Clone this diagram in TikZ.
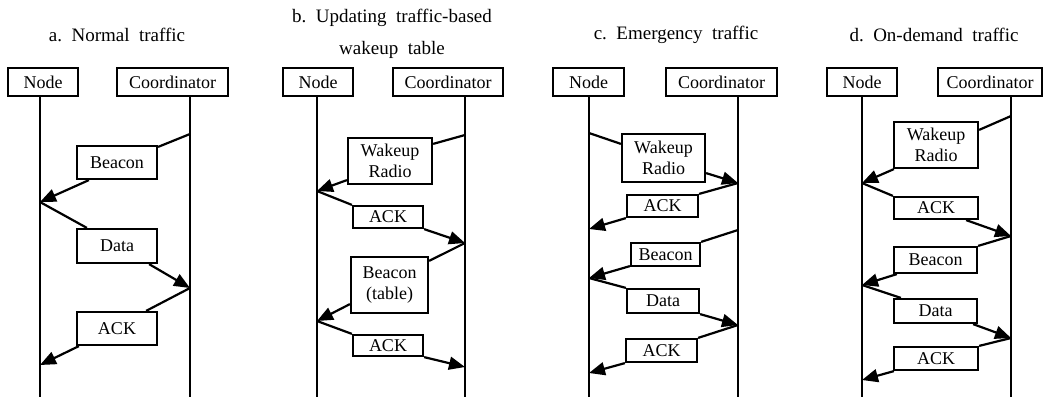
\documentclass[tikz,border=0pt]{standalone}
\usepackage{fontspec}
\setmainfont{Liberation Serif}
\usetikzlibrary{arrows.meta,calc}
\begin{document}
\begin{tikzpicture}[x=1pt,y=-1pt,
  lbl/.style={font=\fontsize{18}{21.5}\selectfont, draw, line width=2.2pt, inner sep=0pt, align=center},
  head/.style={font=\fontsize{19}{22}\selectfont, inner sep=0pt},
  life/.style={line width=2pt},
  wire/.style={line width=2.2pt},
  msg/.style={line width=2.2pt, -{Triangle[length=16pt,width=13pt]}},
]
\useasboundingbox (0,0) rectangle (1043,400);

% ---------------- a. Normal traffic ----------------
\node[head] (aT) at (117,35) {a.\ \ Normal\ \ traffic};
\node[lbl, minimum width=70pt, minimum height=28pt] (aN) at (43,82) {Node};
\node[lbl, minimum width=111pt, minimum height=28pt] (aC) at (172.5,82) {Coordinator};
\coordinate (aNe) at (40,397);
\coordinate (aCe) at (190,397);
\draw[life] (aN.south -| aNe) -- (aNe);
\draw[life] (aC.south -| aCe) -- (aCe);
\coordinate (a0) at (190,134);
\coordinate (a1) at (40,202);
\coordinate (a2) at (190,288);
\coordinate (a3) at (40,365);
\node[lbl, minimum width=80pt, minimum height=33pt] (aB) at (117,162.5) {Beacon};
\node[lbl, minimum width=80pt, minimum height=34pt] (aD) at (117,246) {Data};
\node[lbl, minimum width=80pt, minimum height=33pt] (aK) at (117,328.5) {ACK};
\draw[wire] (a0) -- ($(aB.north east)+(0,2)$);
\draw[msg] ($(aB.south west)+(13,0)$) -- (a1);
\draw[wire] (a1) -- ($(aD.north west)+(11,0)$);
\draw[msg] ($(aD.south east)+(-9,0)$) -- (a2);
\draw[wire] (a2) -- ($(aK.north east)+(-12,0)$);
\draw[msg] ($(aK.south west)+(3,0)$) -- (a3);

% ---------------- b. Updating traffic-based wakeup table ----------------
\node[head] (bT1) at (392,18) {b.\ \ Updating\ \ traffic-based};
\node[head] (bT2) at (392,50) {wakeup\ \ table};
\node[lbl, minimum width=70pt, minimum height=28pt] (bN) at (318,82) {Node};
\node[lbl, minimum width=110pt, minimum height=28pt] (bC) at (448,82) {Coordinator};
\coordinate (bNe) at (317,397);
\coordinate (bCe) at (465,397);
\draw[life] (bN.south -| bNe) -- (bNe);
\draw[life] (bC.south -| bCe) -- (bCe);
\coordinate (b0) at (465,135);
\coordinate (b1) at (317,191);
\coordinate (b2) at (465,243);
\coordinate (b3) at (317,321);
\coordinate (b4) at (465,367);
\node[lbl, minimum width=84pt, minimum height=46pt] (bW) at (390,161) {Wakeup\\Radio};
\node[lbl, minimum width=70pt, minimum height=22pt] (bK1) at (388,217) {ACK};
\node[lbl, minimum width=77pt, minimum height=56pt] (bB) at (389.5,285) {Beacon\\(table)};
\node[lbl, minimum width=70pt, minimum height=21pt] (bK2) at (388,345.5) {ACK};
\draw[wire] (b0) -- ($(bW.north east)+(0,7)$);
\draw[msg] ($(bW.south west)+(0,-5)$) -- (b1);
\draw[wire] (b1) -- (bK1.north west);
\draw[msg] (bK1.south east) -- (b2);
\draw[wire] (b2) -- ($(bB.north east)+(0,5)$);
\draw[msg] ($(bB.south west)+(0,-10)$) -- (b3);
\draw[wire] (b3) -- (bK2.north west);
\draw[msg] (bK2.south east) -- (b4);

% ---------------- c. Emergency traffic ----------------
\node[head] (cT) at (676,35) {c.\ \ Emergency\ \ traffic};
\node[lbl, minimum width=71pt, minimum height=28pt] (cN) at (588.5,82) {Node};
\node[lbl, minimum width=111pt, minimum height=28pt] (cC) at (721.5,82) {Coordinator};
\coordinate (cNe) at (589,397);
\coordinate (cCe) at (738,397);
\draw[life] (cN.south -| cNe) -- (cNe);
\draw[life] (cC.south -| cCe) -- (cCe);
\coordinate (c0) at (589,133);
\coordinate (c1) at (738,183);
\coordinate (c2) at (589,229);
\coordinate (c3) at (738,230);
\coordinate (c4) at (589,278);
\coordinate (c5) at (738,325);
\coordinate (c6) at (589,373);
\node[lbl, minimum width=83pt, minimum height=48pt] (cW) at (663.5,158) {Wakeup\\Radio};
\node[lbl, minimum width=71pt, minimum height=22pt] (cK1) at (662.5,206) {ACK};
\node[lbl, minimum width=69pt, minimum height=23pt] (cB) at (665.5,254.5) {Beacon};
\node[lbl, minimum width=72pt, minimum height=24pt] (cD) at (663,301) {Data};
\node[lbl, minimum width=71pt, minimum height=23pt] (cK2) at (661.5,350.5) {ACK};
\draw[wire] (c0) -- ($(cW.north west)+(0,11)$);
\draw[msg] ($(cW.south east)+(0,-10)$) -- (c1);
\draw[wire] (c1) -- (cK1.north east);
\draw[msg] (cK1.south west) -- (c2);
\draw[wire] (c3) -- (cB.north east);
\draw[msg] ($(cB.south west)+(0,-1)$) -- (c4);
\draw[wire] (c4) -- (cD.north west);
\draw[msg] (cD.south east) -- (c5);
\draw[wire] (c5) -- (cK2.north east);
\draw[msg] (cK2.south west) -- (c6);

% ---------------- d. On-demand traffic ----------------
\node[head] (dT) at (934,35) {d.\ \ On-demand\ \ traffic};
\node[lbl, minimum width=70pt, minimum height=28pt] (dN) at (862,82) {Node};
\node[lbl, minimum width=104pt, minimum height=28pt] (dC) at (990,82) {Coordinator};
\coordinate (dNe) at (862,397);
\coordinate (dCe) at (1011,397);
\draw[life] (dN.south -| dNe) -- (dNe);
\draw[life] (dC.south -| dCe) -- (dCe);
\coordinate (d0) at (1011,116);
\coordinate (d1) at (862,183);
\coordinate (d2) at (1011,236);
\coordinate (d3) at (862,285);
\coordinate (d4) at (1011,338);
\coordinate (d5) at (862,380);
\node[lbl, minimum width=84pt, minimum height=46pt] (dW) at (936,145) {Wakeup\\Radio};
\node[lbl, minimum width=84pt, minimum height=22pt] (dK1) at (936,208) {ACK};
\node[lbl, minimum width=83pt, minimum height=26pt] (dB) at (935.5,260) {Beacon};
\node[lbl, minimum width=83pt, minimum height=24pt] (dD) at (935.5,311) {Data};
\node[lbl, minimum width=84pt, minimum height=23pt] (dK2) at (936,358.5) {ACK};
\draw[wire] (d0) -- ($(dW.north east)+(0,9)$);
\draw[msg] ($(dW.south west)+(1,0)$) -- (d1);
\draw[wire] (d1) -- (dK1.north west);
\draw[msg] ($(dK1.south east)+(-13,0)$) -- (d2);
\draw[wire] (d2) -- (dB.north east);
\draw[msg] ($(dB.south west)+(4,0)$) -- (d3);
\draw[wire] (d3) -- ($(dD.north west)+(8,0)$);
\draw[msg] ($(dD.south east)+(-5,0)$) -- (d4);
\draw[wire] (d4) -- (dK2.north east);
\draw[msg] ($(dK2.south west)+(1,0)$) -- (d5);
\end{tikzpicture}
\end{document}
